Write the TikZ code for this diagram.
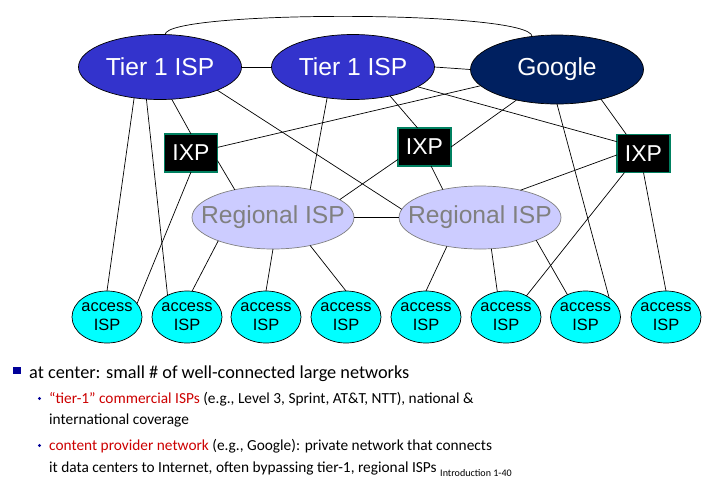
\documentclass[tikz,border=0pt]{standalone}
\usepackage{fontspec}
\setmainfont{Carlito}
\newfontfamily\arialfont{Liberation Sans}
\usetikzlibrary{shapes.geometric}
\definecolor{tierblue}{RGB}{51,51,204}
\definecolor{googleblue}{RGB}{0,32,96}
\definecolor{regionfill}{RGB}{204,204,255}
\definecolor{regiontext}{RGB}{128,128,128}
\definecolor{accessfill}{RGB}{0,255,255}
\definecolor{ixpborder}{RGB}{0,128,96}
\definecolor{notered}{RGB}{204,0,0}
\definecolor{bulletblue}{RGB}{0,0,153}

\begin{document}
\begin{tikzpicture}[x=0.03cm,y=-0.03cm,
  isp/.style={ellipse,draw=black,line width=0.6pt,inner xsep=-20pt,inner ysep=-6pt,outer sep=0pt,
    font=\arialfont\fontsize{21}{25}\selectfont},
  tier/.style={isp,fill=tierblue,text=white,minimum width=4.89cm,minimum height=1.95cm},
  content/.style={isp,fill=googleblue,text=white,minimum width=5.19cm,minimum height=2.07cm},
  regional/.style={isp,draw=regiontext,fill=regionfill,text=regiontext,
    minimum width=4.86cm,minimum height=1.89cm},
  access/.style={isp,fill=accessfill,minimum width=2.1cm,minimum height=1.56cm,
    align=center,font=\arialfont\fontsize{14}{16.2}\selectfont},
  ixp/.style={rectangle,draw=ixpborder,line width=1.3pt,fill=black,text=white,
    minimum width=1.59cm,minimum height=1.14cm,inner sep=0pt,outer sep=0pt,
    font=\arialfont\fontsize{19.6}{22}\selectfont},
  link/.style={line width=0.6pt},
  bodytext/.style={anchor=base west,inner sep=0pt,font=\fontsize{15.6}{18}\selectfont},
  subtext/.style={anchor=base west,inner sep=0pt,font=\fontsize{13.1}{16}\selectfont}]
\useasboundingbox (0,0) rectangle (719,492);

% core networks
\node[tier] (t1a) at (160,67) {Tier 1 ISP};
\node[tier] (t1b) at (353,67) {Tier 1 ISP};
\node[content] (goo) at (557,69.5) {Google};

% exchange points
\node[ixp] (ixa) at (191,153) {IXP};
\node[ixp] (ixb) at (424.5,147) {IXP};
\node[ixp] (ixc) at (643.5,153.5) {IXP};

\node[regional] (rga) at (273,217.5) {Regional ISP};
\node[regional] (rgb) at (480,217.5) {Regional ISP};

% access networks
\foreach \x [count=\i] in {107,187,266,346,426,506,585.5,666}
  \node[access] (ac\i) at (\x,317) {access\\ISP};

% links
\draw[link] (t1a) -- (t1b);
\draw[link] (t1b.east) -- (goo.west);
\draw[link] (t1a.81) .. controls (165,10) and (531,10) .. (goo.127);
\draw[link] (t1a.-130) -- (ac1.north);
\draw[link] (t1a.-113) -- (ac2.132);
\draw[link] (t1a.-70) -- (ixa.north);
\draw[link] (t1a.-22) -- (rgb.174);
\draw[link] (t1b.-130) -- (rga.37);
\draw[link] (t1b.-38) -- (ixb.110);
\draw[link] (t1b.-17) -- (ixc.156);
\draw[link] (goo.-168) -- (ixa.12);
\draw[link] (goo.-143) -- (ixb.east);
\draw[link] (goo.south) -- (ac7.39);
\draw[link] (goo.-34) -- (ixc.132);
\draw[link] (ixa.south) -- (ac1.24);
\draw[link] (ixa.-16) -- (rga.144);
\draw[link] (rga.15) -- (ixb.-155);
\draw[link] (ixb.-71) -- (rgb.143);
\draw[link] (rgb.34) -- (ixc.183);
\draw[link] (ixc.-135) -- (ac6.46);
\draw[link] (ixc.south) -- (ac8.north);
\draw[link] (rga) -- (rgb);
\draw[link] (rga.-157) -- (ac2.79);
\draw[link] (rga.south) -- (ac3.north);
\draw[link] (rga.-37) -- (ac4.north);
\draw[link] (rgb.-139) -- (ac5.north);
\draw[link] (rgb.-70) -- (ac6.109);
\draw[link] (rgb.-22) -- (ac7.129);

% notes
\node[fill=bulletblue,minimum width=0.24cm,minimum height=0.21cm,inner sep=0pt] (sq1) at (17,370.5) {};
\node[bodytext] (l1) at (29,378) {at center: small \# of well-connected large networks};
\node[circle,fill=bulletblue,minimum size=0.1cm,inner sep=0pt] (dt1) at (39.5,398.5) {};
\node[subtext] (l2) at (49,403) {\textcolor{notered}{“tier-1” commercial ISPs} (e.g., Level 3, Sprint, AT\&T, NTT), national \&};
\node[subtext] (l3) at (49,424.5) {international coverage};
\node[circle,fill=bulletblue,minimum size=0.1cm,inner sep=0pt] (dt2) at (39.5,445.5) {};
\node[subtext] (l4) at (49,450) {\textcolor{notered}{content provider network} (e.g., Google): private network that connects};
\node[subtext] (l5) at (49,472) {it data centers to Internet, often bypassing tier-1, regional ISPs};
\node[anchor=base west,inner sep=0pt,font=\fontsize{8.6}{10}\selectfont] (pg) at (440,476.5) {Introduction 1-40};
\end{tikzpicture}
\end{document}
